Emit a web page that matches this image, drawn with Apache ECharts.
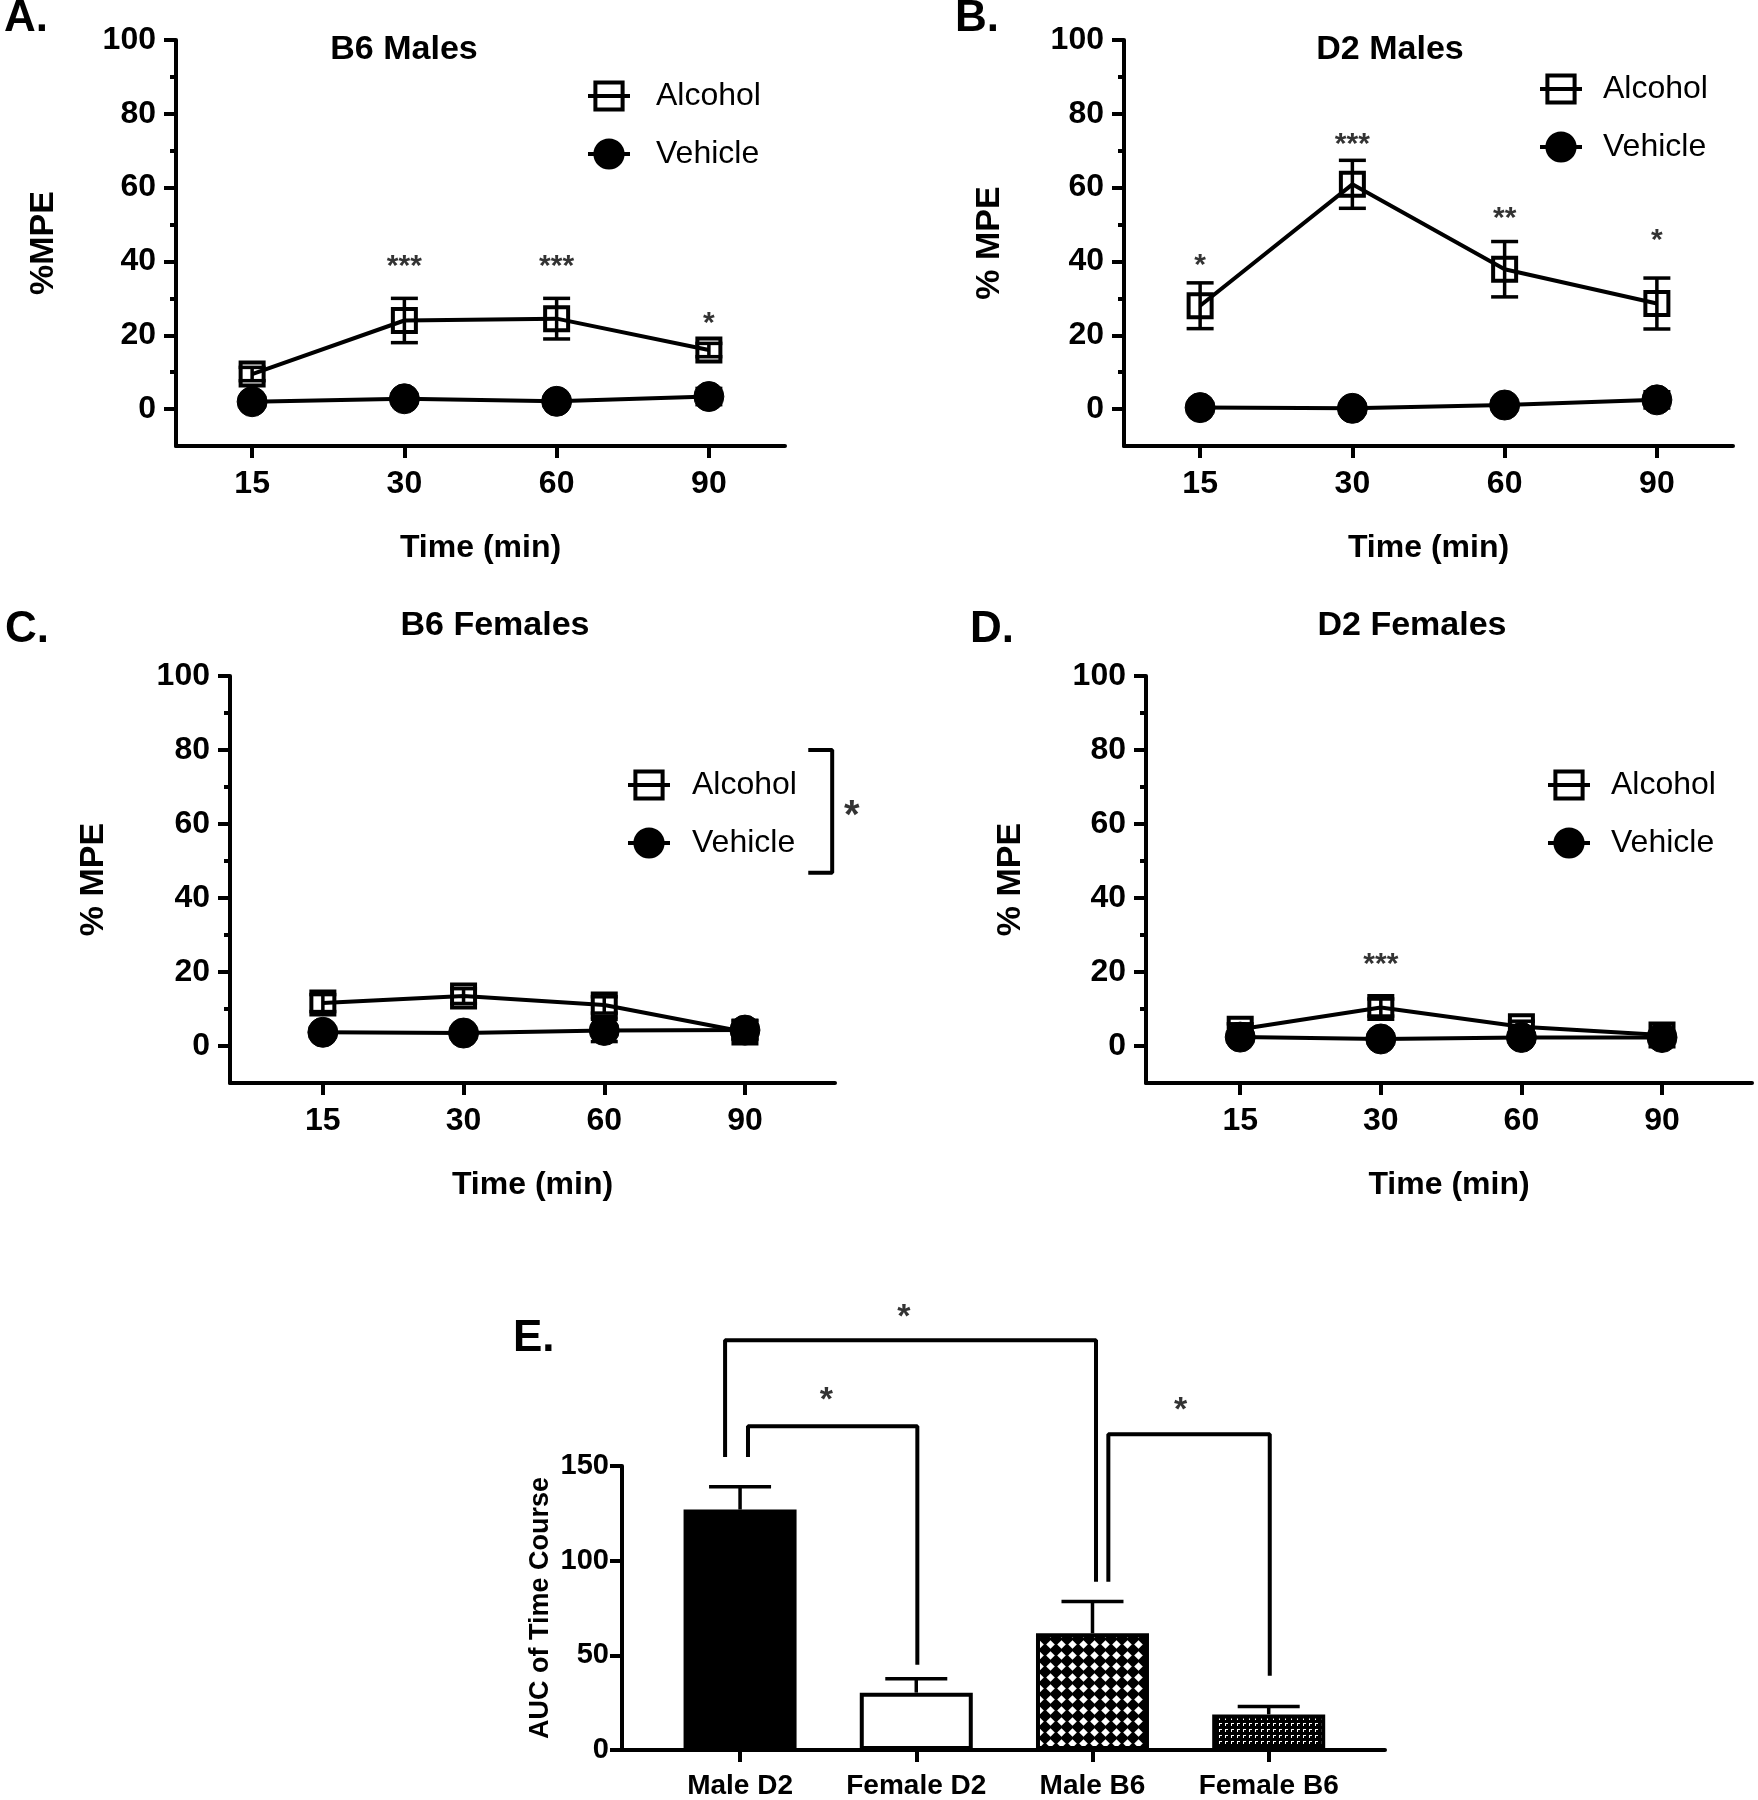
<!DOCTYPE html>
<html>
<head>
<meta charset="utf-8">
<script src="https://cdn.jsdelivr.net/npm/echarts@6/dist/echarts.min.js"></script>
<style>
  html, body { margin: 0; padding: 0; background: #fff; }
  #chart { width: 1758px; height: 1800px; }
</style>
</head>
<body>
<div id="chart"></div>
<script>
// 时间点（横轴标签）
const times = ['15', '30', '60', '90'];

// A. B6 Males
const b6MaleAlcohol = [9.5, 24, 24.5, 16];
const b6MaleAlcoholSem = [1.8, 6, 5.5, 1.8];
const b6MaleVehicle = [2, 2.8, 2.1, 3.4];
const b6MaleVehicleSem = [0.8, 0.8, 0.8, 2.2];
const b6MaleStars = [[1, 40, '***'], [2, 40, '***'], [3, 24.5, '*']];

// B. D2 Males
const d2MaleAlcohol = [28, 60.9, 37.9, 28.6];
const d2MaleAlcoholSem = [6.2, 6.5, 7.5, 6.9];
const d2MaleVehicle = [0.4, 0.2, 1.1, 2.5];
const d2MaleVehicleSem = [0.6, 0.5, 0.8, 2.2];
const d2MaleStars = [[0, 40.4, '*'], [1, 73, '***'], [2, 53.1, '**'], [3, 47.2, '*']];

// C. B6 Females
const b6FemaleAlcohol = [11.6, 13.5, 11.1, 3.8];
const b6FemaleAlcoholSem = [2.3, 2, 2.2, 1.8];
const b6FemaleVehicle = [3.7, 3.5, 4.2, 4.3];
const b6FemaleVehicleSem = [1, 0.8, 3, 2.5];
const b6FemaleStars = [[3.76, 63.8, '*']];
const b6FemaleBracket = [[3.45, 80], [3.62, 80], [3.62, 46.8], [3.45, 46.8]];

// D. D2 Females
const d2FemaleAlcohol = [4.5, 10.4, 5.2, 3.0];
const d2FemaleAlcoholSem = [1.5, 2.3, 1.5, 1];
const d2FemaleVehicle = [2.4, 1.9, 2.3, 2.3];
const d2FemaleVehicleSem = [1, 0.6, 1, 1];
const d2FemaleStars = [[1, 23.3, '***']];

// E. AUC
const aucGroups = ['Male D2', 'Female D2', 'Male B6', 'Female B6'];
const aucMeans = [127, 30.3, 61.7, 18.8];
const aucSem = [12, 7.3, 16.7, 4.2];
const aucBrackets = [
  [[-0.085, 154.7], [-0.085, 216.4], [2.02, 216.4], [2.02, 88.9]],
  [[0.045, 154.7], [0.045, 171], [1.006, 171], [1.006, 45]],
  [[2.09, 88.9], [2.09, 166.8], [3.006, 166.8], [3.006, 39.2]]
];
const aucStars = [[0.93, 231.6, '*'], [0.49, 187.7, '*'], [2.5, 182.4, '*']];

const FONT = '"Liberation Sans", Arial, sans-serif';
const LW = 4;

// 填充图案：交叉网格（Male B6）和细点（Female B6）
function makePattern(kind) {
  const c = document.createElement('canvas');
  const ctx = c.getContext('2d');
  if (kind === 'diamond') {
    c.width = 11; c.height = 11;
    ctx.fillStyle = '#000';
    ctx.fillRect(0, 0, 11, 11);
    ctx.fillStyle = '#fff';
    ctx.beginPath();
    ctx.moveTo(5.5, 1.2); ctx.lineTo(9.8, 5.5); ctx.lineTo(5.5, 9.8); ctx.lineTo(1.2, 5.5);
    ctx.closePath();
    ctx.fill();
  } else {
    c.width = 6; c.height = 6;
    ctx.fillStyle = '#000';
    ctx.fillRect(0, 0, 6, 6);
    ctx.fillStyle = '#fff';
    ctx.fillRect(1, 1, 3, 1);
    ctx.fillRect(1, 2, 1, 2);
  }
  return { image: c, repeat: 'repeat' };
}
const aucFills = ['#000', '#fff', makePattern('diamond'), makePattern('dots')];

// 误差线
function errorBarRender(capW, upperOnly) {
  return function (params, api) {
    const x = api.value(0);
    const lo = api.value(1);
    const hi = api.value(2);
    const p0 = api.coord([x, lo]);
    const p1 = api.coord([x, hi]);
    const st = { stroke: '#000', lineWidth: 3.5, fill: null };
    const children = [
      { type: 'line', shape: { x1: p0[0], y1: p0[1], x2: p1[0], y2: p1[1] }, style: st },
      { type: 'line', shape: { x1: p1[0] - capW / 2, y1: p1[1], x2: p1[0] + capW / 2, y2: p1[1] }, style: st }
    ];
    if (!upperOnly) {
      children.push({ type: 'line', shape: { x1: p0[0] - capW / 2, y1: p0[1], x2: p0[0] + capW / 2, y2: p0[1] }, style: st });
    }
    return { type: 'group', children: children };
  };
}

const panels = [
  { grid: { left: 176, top: 40, width: 609, height: 406 }, xMin: -0.5, xMax: 3.5, yName: '%MPE', yGap: 115,
    alc: b6MaleAlcohol, alcSem: b6MaleAlcoholSem, veh: b6MaleVehicle, vehSem: b6MaleVehicleSem, stars: b6MaleStars,
    legend: { left: 586, top: 80, pad: 21 } },
  { grid: { left: 1124, top: 40, width: 609, height: 406 }, xMin: -0.5, xMax: 3.5, yName: '% MPE', yGap: 117,
    alc: d2MaleAlcohol, alcSem: d2MaleAlcoholSem, veh: d2MaleVehicle, vehSem: d2MaleVehicleSem, stars: d2MaleStars,
    legend: { left: 1538, top: 73, pad: 16 } },
  { grid: { left: 230, top: 676, width: 605, height: 407 }, xMin: -0.66, xMax: 3.64, yName: '% MPE', yGap: 119,
    alc: b6FemaleAlcohol, alcSem: b6FemaleAlcoholSem, veh: b6FemaleVehicle, vehSem: b6FemaleVehicleSem, stars: b6FemaleStars,
    legend: { left: 626, top: 769, pad: 17 }, bracket: b6FemaleBracket, starSize: 40 },
  { grid: { left: 1146, top: 676, width: 606, height: 407 }, xMin: -0.67, xMax: 3.64, yName: '% MPE', yGap: 118,
    alc: d2FemaleAlcohol, alcSem: d2FemaleAlcoholSem, veh: d2FemaleVehicle, vehSem: d2FemaleVehicleSem, stars: d2FemaleStars,
    legend: { left: 1546, top: 769, pad: 16 } }
];

const grids = [], xAxes = [], yAxes = [], series = [], legends = [];

panels.forEach((p, i) => {
  grids.push(p.grid);
  xAxes.push({
    type: 'value', gridIndex: i, min: p.xMin, max: p.xMax,
    name: 'Time (min)', nameLocation: 'middle', nameGap: 86,
    nameTextStyle: { fontFamily: FONT, fontWeight: 'bold', fontSize: 32, color: '#000' },
    axisLine: { onZero: false, lineStyle: { color: '#000', width: LW } },
    axisTick: { customValues: [0, 1, 2, 3], length: 12, lineStyle: { color: '#000', width: LW } },
    axisLabel: { customValues: [0, 1, 2, 3], margin: 22, fontFamily: FONT, fontWeight: 'bold', fontSize: 32, color: '#000',
      formatter: v => times[Math.round(v)] },
    splitLine: { show: false }
  });
  yAxes.push({
    type: 'value', gridIndex: i, min: -10, max: 100, position: 'left',
    name: p.yName, nameLocation: 'middle', nameGap: p.yGap,
    nameTextStyle: { fontFamily: FONT, fontWeight: 'bold', fontSize: 34, color: '#000' },
    axisLine: { show: true, onZero: false, lineStyle: { color: '#000', width: LW } },
    axisTick: { show: true, customValues: [0, 20, 40, 60, 80, 100], length: 12, lineStyle: { color: '#000', width: LW } },
    axisLabel: { customValues: [0, 20, 40, 60, 80, 100], margin: 20, fontFamily: FONT, fontWeight: 'bold', fontSize: 32, color: '#000' },
    splitLine: { show: false }
  });
  yAxes.push({
    type: 'value', gridIndex: i, min: -10, max: 100, position: 'left',
    axisLine: { show: false, onZero: false },
    axisTick: { show: true, customValues: [10, 30, 50, 70, 90], length: 6, lineStyle: { color: '#000', width: LW } },
    axisLabel: { show: false },
    splitLine: { show: false }
  });
  const yi = 2 * i;
  const pts = arr => arr.map((v, k) => [k, v]);
  const errs = (arr, sem) => arr.map((v, k) => [k, v - sem[k], v + sem[k]]);

  series.push({
    name: 'Alcohol', type: 'line', xAxisIndex: i, yAxisIndex: yi, data: pts(p.alc),
    symbol: 'rect', symbolSize: 23, z: 2,
    itemStyle: { color: 'rgba(0,0,0,0)', borderColor: '#000', borderWidth: LW },
    lineStyle: { color: '#000', width: LW }
  });
  series.push({
    name: 'Alcohol SEM', type: 'custom', xAxisIndex: i, yAxisIndex: yi, data: errs(p.alc, p.alcSem),
    renderItem: errorBarRender(27, false), encode: { x: 0, y: [1, 2] }, z: 3
  });
  series.push({
    name: 'Vehicle SEM', type: 'custom', xAxisIndex: i, yAxisIndex: yi, data: errs(p.veh, p.vehSem),
    renderItem: errorBarRender(27, false), encode: { x: 0, y: [1, 2] }, z: 3
  });
  series.push({
    name: 'Vehicle', type: 'line', xAxisIndex: i, yAxisIndex: yi, data: pts(p.veh),
    symbol: 'circle', symbolSize: 30, z: 4,
    itemStyle: { color: '#000', borderColor: '#000' },
    lineStyle: { color: '#000', width: LW }
  });
  const fs = p.starSize || 30;
  series.push({
    name: 'stars' + i, type: 'scatter', xAxisIndex: i, yAxisIndex: yi, clip: false,
    data: p.stars, symbolSize: 0, z: 5,
    label: { show: true, position: 'inside', formatter: d => d.data[2], offset: [0, fs * 0.18],
      fontFamily: FONT, fontWeight: 'bold', fontSize: fs, color: '#000' }
  });
  if (p.bracket) {
    series.push({
      name: 'bracket' + i, type: 'line', xAxisIndex: i, yAxisIndex: yi, clip: false,
      data: p.bracket, symbol: 'none', z: 5, lineStyle: { color: '#000', width: LW }
    });
  }
  legends.push({
    left: p.legend.left, top: p.legend.top, orient: 'vertical', selectedMode: false, padding: 0,
    data: ['Alcohol', 'Vehicle'], itemWidth: 42, itemHeight: 34, itemGap: 26,
    itemStyle: { borderWidth: LW, borderColor: '#000' },
    lineStyle: { width: LW, color: '#000' },
    textStyle: { fontFamily: FONT, fontSize: 32, color: '#000', padding: [0, 0, 0, p.legend.pad] }
  });
});

// E 面板
grids.push({ left: 622, top: 1466, width: 763, height: 287 });
xAxes.push({
  type: 'value', gridIndex: 4, min: -0.67, max: 3.66,
  axisLine: { onZero: false, lineStyle: { color: '#000', width: LW } },
  axisTick: { customValues: [0, 1, 2, 3], length: 12, lineStyle: { color: '#000', width: LW } },
  axisLabel: { customValues: [0, 1, 2, 3], margin: 22, fontFamily: FONT, fontWeight: 'bold', fontSize: 28, color: '#000',
    formatter: v => aucGroups[Math.round(v)] },
  splitLine: { show: false }
});
yAxes.push({
  type: 'value', gridIndex: 4, min: 0, max: 150, interval: 50, position: 'left',
  name: 'AUC of Time Course', nameLocation: 'middle', nameGap: 68,
  nameTextStyle: { fontFamily: FONT, fontWeight: 'bold', fontSize: 27, color: '#000' },
  axisLine: { show: true, onZero: false, lineStyle: { color: '#000', width: LW } },
  axisTick: { show: true, length: 12, lineStyle: { color: '#000', width: LW } },
  axisLabel: { margin: 13, fontFamily: FONT, fontWeight: 'bold', fontSize: 29, color: '#000' },
  splitLine: { show: false }
});
series.push({
  name: 'AUC', type: 'bar', xAxisIndex: 4, yAxisIndex: 8, barWidth: 113, z: 2,
  data: aucMeans.map((v, k) => ({ value: [k, v], itemStyle: { color: aucFills[k] } })),
  itemStyle: { borderColor: '#000', borderWidth: LW }
});
series.push({
  name: 'AUC SEM', type: 'custom', xAxisIndex: 4, yAxisIndex: 8, z: 3,
  data: aucMeans.map((v, k) => [k, v, v + aucSem[k]]),
  renderItem: errorBarRender(62, true), encode: { x: 0, y: [1, 2] }
});
aucBrackets.forEach((b, k) => {
  series.push({
    name: 'aucBracket' + k, type: 'line', xAxisIndex: 4, yAxisIndex: 8, clip: false,
    data: b, symbol: 'none', z: 4, lineStyle: { color: '#000', width: LW }
  });
});
series.push({
  name: 'aucStars', type: 'scatter', xAxisIndex: 4, yAxisIndex: 8, clip: false,
  data: aucStars, symbolSize: 0, z: 5,
  label: { show: true, position: 'inside', formatter: d => d.data[2], offset: [0, 6],
    fontFamily: FONT, fontWeight: 'bold', fontSize: 34, color: '#000' }
});

// 面板字母和标题
function txt(text, x, y, size, align) {
  return { type: 'text', x: x, y: y, style: { text: text, fontFamily: FONT, fontWeight: 'bold', fontSize: size,
    fill: '#000', textAlign: align || 'left', textVerticalAlign: 'middle' } };
}
const graphics = [
  txt('A.', 4, 19, 44), txt('B.', 955, 19, 44), txt('C.', 5, 630, 44), txt('D.', 970, 630, 44), txt('E.', 513, 1339, 44),
  txt('B6 Males', 404, 50, 34, 'center'), txt('D2 Males', 1390, 50, 34, 'center'),
  txt('B6 Females', 495, 626, 34, 'center'), txt('D2 Females', 1412, 626, 34, 'center')
];

const chart = echarts.init(document.getElementById('chart'), null, { renderer: 'canvas' });
chart.setOption({
  animation: false,
  backgroundColor: '#fff',
  grid: grids,
  xAxis: xAxes,
  yAxis: yAxes,
  legend: legends,
  graphic: graphics,
  series: series
});
</script>
</body>
</html>
